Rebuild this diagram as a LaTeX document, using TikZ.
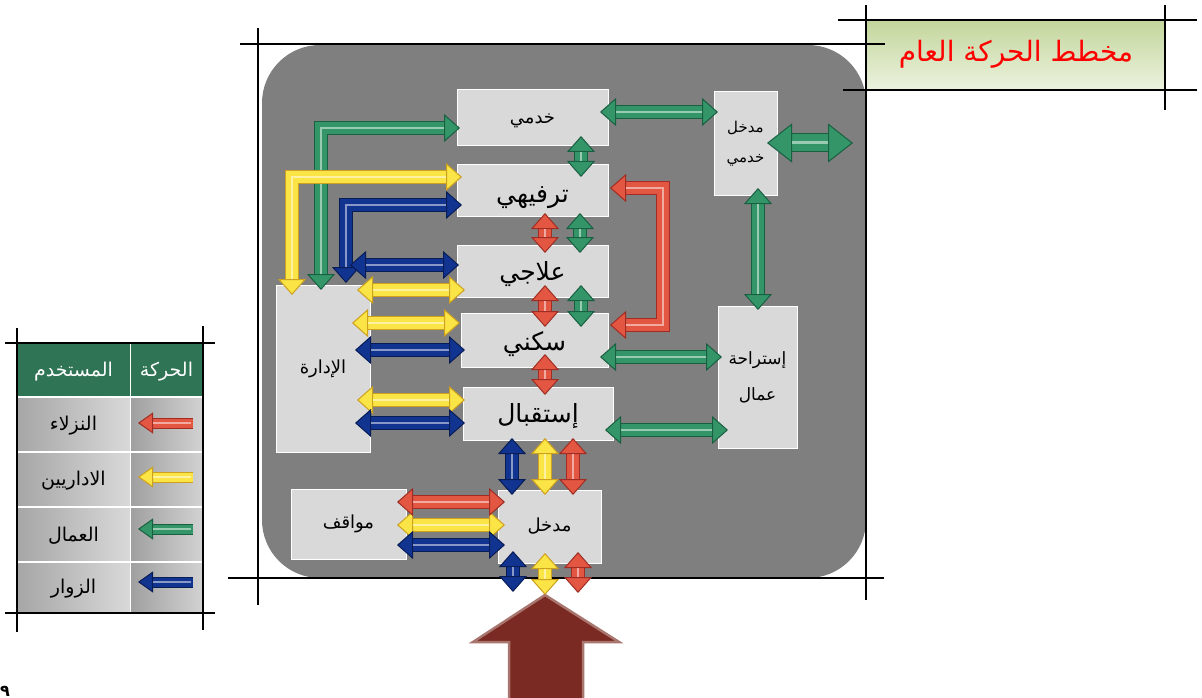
\documentclass[tikz,border=0pt]{standalone}
\usepackage{fontspec}
\usetikzlibrary{arrows.meta}
\newfontfamily\arabicfont[Script=Arabic]{DejaVu Sans}
\TeXXeTstate=1
\definecolor{FrameClr}{RGB}{127,127,127}
\definecolor{RoomClr}{RGB}{217,217,217}
\definecolor{HeadClr}{RGB}{47,116,84}
\definecolor{TitleTop}{RGB}{195,214,155}
\definecolor{TitleBot}{RGB}{236,242,224}
\definecolor{DoorClr}{RGB}{122,42,34}
\definecolor{GuestClr}{RGB}{226,86,66}
\definecolor{GuestEdge}{RGB}{160,45,35}
\definecolor{AdminClr}{RGB}{250,228,70}
\definecolor{AdminEdge}{RGB}{205,160,30}
\definecolor{WorkerClr}{RGB}{52,150,104}
\definecolor{WorkerEdge}{RGB}{25,95,65}
\definecolor{VisitorClr}{RGB}{18,52,145}
\definecolor{VisitorEdge}{RGB}{8,28,85}
\newcommand\artxt[1]{\beginR #1\endR}

\begin{document}
\begin{tikzpicture}[x=1pt,y=-1pt,
  room/.style={draw=white, line width=1pt, fill=RoomClr, outer sep=0pt, inner sep=2pt, align=center,
    font=\arabicfont\fontsize{18}{22}\selectfont},
  bigname/.style={font=\arabicfont\fontsize{25}{29}\selectfont},
  lowtxt/.style={text height=#1, text depth=0pt},
  legtxt/.style={font=\arabicfont\fontsize{19}{22}\selectfont},
  cut/.style={draw=black, line width=1.6pt},
  blk/.style 2 args={draw=#1, line width=12pt,
    arrows={Triangle[width=28pt,length=16pt,line width=1pt,color=#2,fill=#1]}-{Triangle[width=28pt,length=16pt,line width=1pt,color=#2,fill=#1]},
    preaction={draw=#2, line width=14pt, arrows=-, shorten <=15pt, shorten >=15pt},
    postaction={draw=#1!50!white, line width=2.5pt, arrows=-, shorten <=16pt, shorten >=16pt}},
  bigblk/.style 2 args={draw=#1, line width=17pt,
    arrows={Triangle[width=39pt,length=25pt,line width=1pt,color=#2,fill=#1]}-{Triangle[width=39pt,length=25pt,line width=1pt,color=#2,fill=#1]},
    preaction={draw=#2, line width=19pt, arrows=-, shorten <=24pt, shorten >=24pt},
    postaction={draw=#1!50!white, line width=3pt, arrows=-, shorten <=25pt, shorten >=25pt}},
  legblk/.style 2 args={draw=#1, line width=9pt,
    arrows=-{Triangle[width=21pt,length=15pt,line width=1pt,color=#2,fill=#1]},
    preaction={draw=#2, line width=11pt, arrows=-, shorten >=14pt},
    postaction={draw=#1!50!white, line width=2pt, arrows=-, shorten >=15pt, shorten <=2pt}},
  guest/.style={blk={GuestClr}{GuestEdge}},
  admin/.style={blk={AdminClr}{AdminEdge}},
  worker/.style={blk={WorkerClr}{WorkerEdge}},
  visitor/.style={blk={VisitorClr}{VisitorEdge}}]

\useasboundingbox (0,0) rectangle (1202,698);

\fill[FrameClr, rounded corners=58pt] (262,45) rectangle (866,578);

% title
\shade[top color=TitleTop, bottom color=TitleBot] (865,20) rectangle (1165,90);
\node[font=\arabicfont\fontsize{28}{32}\selectfont, text=red] (title) at (1016,54) {\artxt{مخطط الحركة العام}};

% legend
\fill[HeadClr] (17,343) rectangle (203,397);
\shade[left color=gray!70, right color=gray!30] (17,397) rectangle (130,452);
\shade[left color=gray!75, right color=gray!35] (130,397) rectangle (203,452);
\shade[left color=gray!70, right color=gray!30] (17,452) rectangle (130,507);
\shade[left color=gray!75, right color=gray!35] (130,452) rectangle (203,507);
\shade[left color=gray!70, right color=gray!30] (17,507) rectangle (130,562);
\shade[left color=gray!75, right color=gray!35] (130,507) rectangle (203,562);
\shade[left color=gray!70, right color=gray!30] (17,562) rectangle (130,613);
\shade[left color=gray!75, right color=gray!35] (130,562) rectangle (203,613);
\draw[white, line width=2pt] (17,397) -- (203,397) (17,452) -- (203,452) (17,507) -- (203,507) (17,562) -- (203,562);
\draw[white, line width=1pt] (130,343) -- (130,613);

\node[legtxt, text=white] (lgMove) at (166.5,372) {\artxt{الحركة}};
\node[legtxt, text=white] (lgUser) at (73.5,372) {\artxt{المستخدم}};
\node[legtxt] (lgGuest) at (73.5,426) {\artxt{النزلاء}};
\node[legtxt] (lgAdmin) at (73.5,481) {\artxt{الاداريين}};
\node[legtxt] (lgWorker) at (73.5,536) {\artxt{العمال}};
\node[legtxt] (lgVisitor) at (73.5,589) {\artxt{الزوار}};

\draw[legblk={GuestClr}{GuestEdge}] (193,423) -- (138,423);
\draw[legblk={AdminClr}{AdminEdge}] (193,477) -- (138,477);
\draw[legblk={WorkerClr}{WorkerEdge}] (193,529) -- (138,529);
\draw[legblk={VisitorClr}{VisitorEdge}] (193,582) -- (138,582);

% frame lines
\draw[cut] (240,44) -- (885,44);
\draw[cut] (258,28) -- (258,605);
\draw[cut] (228,578) -- (884,578);
\draw[cut] (866,5) -- (866,600);
\draw[cut] (838,20) -- (1197,20);
\draw[cut] (843,90) -- (1197,90);
\draw[cut] (1165,5) -- (1165,110);
\draw[cut] (5,343) -- (215,343);
\draw[cut] (5,613) -- (215,613);
\draw[cut] (17,328) -- (17,632);
\draw[cut] (203,326) -- (203,630);

% rooms
\node[room, lowtxt=12pt, minimum width=151pt, minimum height=56pt] (khd) at (532.5,118) {\artxt{خدمي}};
\node[room, bigname, lowtxt=24pt, minimum width=151pt, minimum height=52pt] (trf) at (532.5,190) {\artxt{ترفيهي}};
\node[room, bigname, lowtxt=18pt, minimum width=151pt, minimum height=52pt] (ilj) at (532.5,271) {\artxt{علاجي}};
\node[room, bigname, lowtxt=20pt, minimum width=147pt, minimum height=54pt] (skn) at (534.5,340) {\artxt{سكني}};
\node[room, bigname, lowtxt=17pt, minimum width=150pt, minimum height=53pt] (stq) at (538,413.5) {\artxt{إستقبال}};
\node[room, minimum width=94pt, minimum height=167pt] (idr) at (323,368.5) {\artxt{الإدارة}};
\node[room, minimum width=103pt, minimum height=73pt] (mdk) at (549.5,526.5) {\artxt{مدخل}};
\node[room, minimum width=115pt, minimum height=70pt] (mwq) at (348.5,524) {\artxt{مواقف}};
\node[room, font=\arabicfont\fontsize{15}{24}\selectfont, minimum width=63pt, minimum height=103pt] (mdkh) at (745.5,143.5) {\artxt{مدخل}\\[6pt]\artxt{خدمي}};
\node[room, font=\arabicfont\fontsize{17}{22}\selectfont, minimum width=79pt, minimum height=142pt] (str) at (757.5,377) {\artxt{إستراحة}\\[14pt]\artxt{عمال}};

\coordinate (gate) at (853,143);
\coordinate (door) at (545,595);

\filldraw[fill=DoorClr, draw=DoorClr!65!white, line width=2.5pt, line join=miter] (door) -- ++(74,47) -- ++(-36,0) -- ++(0,60) -- ++(-74,0) -- ++(0,-60) -- ++(-36,0) -- cycle;

% workers
\draw[worker] ([shift={(-2,5)}]idr.north) |- ([shift={(3,10)}]khd.west);
\draw[worker] ([shift={(48.5,-10)}]khd.south) -- ([shift={(48.5,13)}]trf.north);
\draw[worker] ([shift={(47.5,-3)}]trf.south) -- ([shift={(47.5,8)}]ilj.north);
\draw[worker] ([shift={(48.5,-12)}]ilj.south) -- ([shift={(46.5,14)}]skn.north);
\draw[worker] ([shift={(-8,-6)}]khd.east) -- ([shift={(4,-31.5)}]mdkh.west);
\draw[bigblk={WorkerClr}{WorkerEdge}] ([shift={(-10,-0.5)}]mdkh.east) -- (gate);
\draw[worker] ([shift={(12.5,-7)}]mdkh.south) -- ([shift={(0.5,4)}]str.north);
\draw[worker] ([shift={(-8,17)}]skn.east) -- ([shift={(4,-20)}]str.west);
\draw[worker] ([shift={(-8,16.5)}]stq.east) -- ([shift={(10,53)}]str.west);

% admins
\draw[admin] ([shift={(-31,10)}]idr.north) |- ([shift={(5,-13)}]trf.west);
\draw[admin] ([shift={(-13,-78.5)}]idr.east) -- ([shift={(8,19)}]ilj.west);
\draw[admin] ([shift={(-18,-45.5)}]idr.east) -- ([shift={(-1,-17)}]skn.west);
\draw[admin] ([shift={(-13,31.5)}]idr.east) -- ([shift={(2,-13.5)}]stq.west);
\draw[admin] ([shift={(7,-2)}]stq.south) -- ([shift={(-4.5,5)}]mdk.north);
\draw[admin] ([shift={(-9,1)}]mwq.east) -- ([shift={(7,-1.5)}]mdk.west);
\draw[admin] ([shift={(-4.5,-10)}]mdk.south) -- (door);

% visitors
\draw[visitor] ([shift={(23,-2)}]idr.north) |- ([shift={(5,15)}]trf.west);
\draw[visitor] ([shift={(-20,-103.5)}]idr.east) -- ([shift={(2,-6)}]ilj.west);
\draw[visitor] ([shift={(-15,-18.5)}]idr.east) -- ([shift={(4,10)}]skn.west);
\draw[visitor] ([shift={(-15,54.5)}]idr.east) -- ([shift={(2,9.5)}]stq.west);
\draw[visitor] ([shift={(-26,-2)}]stq.south) -- ([shift={(-37.5,5)}]mdk.north);
\draw[visitor] ([shift={(-9,21)}]mwq.east) -- ([shift={(7,18.5)}]mdk.west);
\draw[visitor] ([shift={(-36.5,-12)}]mdk.south) -- ([shift={(-32,-3)}]door);

% guests
\draw[guest] ([shift={(2,-2)}]trf.east) -- ++(53,0) |- ([shift={(2,-15)}]skn.east);
\draw[guest] ([shift={(12.5,-3)}]trf.south) -- ([shift={(12.5,8)}]ilj.north);
\draw[guest] ([shift={(12.5,-12)}]ilj.south) -- ([shift={(10.5,14)}]skn.north);
\draw[guest] ([shift={(10.5,-13)}]skn.south) -- ([shift={(7,8)}]stq.north);
\draw[guest] ([shift={(35,-2)}]stq.south) -- ([shift={(23.5,5)}]mdk.north);
\draw[guest] ([shift={(-9,-22)}]mwq.east) -- ([shift={(7,-24.5)}]mdk.west);
\draw[guest] ([shift={(28.5,-11)}]mdk.south) -- ([shift={(33,-2)}]door);

\node[font=\arabicfont\bfseries\fontsize{16}{16}\selectfont] (pgnum) at (5,691) {٩};

\end{tikzpicture}
\end{document}
